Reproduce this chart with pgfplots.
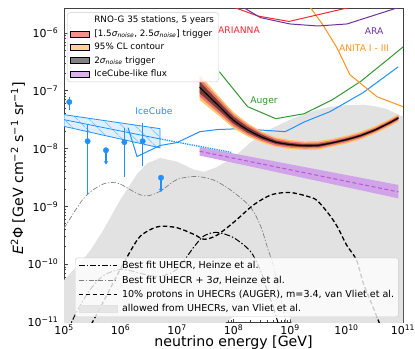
\documentclass[border=0pt]{standalone}
\usepackage{fontspec}
\setmainfont{DejaVu Sans}
\usepackage{pgfplots}
\usepackage{pgfplotstable}
\pgfplotsset{compat=1.18}
\usetikzlibrary{patterns.meta,arrows.meta}

\definecolor{icblue}{RGB}{30,144,255}
\definecolor{icfill}{RGB}{222,240,255}
\definecolor{arianna}{RGB}{240,40,50}
\definecolor{ara}{RGB}{112,48,160}
\definecolor{anita}{RGB}{255,145,30}
\definecolor{auger}{RGB}{50,150,50}
\definecolor{uhecr}{RGB}{226,226,226}
\definecolor{bandorange}{RGB}{255,200,110}
\definecolor{bandred}{RGB}{242,118,112}
\definecolor{darkband}{RGB}{100,100,100}
\definecolor{violetfill}{RGB}{209,163,232}
\definecolor{violetleg}{RGB}{215,160,230}
\definecolor{violetline}{RGB}{186,85,211}
\definecolor{framegray}{RGB}{64,64,64}

% RNO-G central curve
\pgfplotstableread{
E        c
2.512e7  1.148e-7
3.981e7  7.41e-8
6.310e7  4.79e-8
1.000e8  3.09e-8
1.778e8  2.11e-8
3.162e8  1.585e-8
5.623e8  1.29e-8
1.000e9  1.175e-8
1.778e9  1.122e-8
3.162e9  1.135e-8
5.623e9  1.259e-8
1.000e10 1.43e-8
1.778e10 1.679e-8
3.162e10 2.09e-8
5.623e10 2.75e-8
8.318e10 3.39e-8
}\rnogc
% 95% CL contour (upper edge, then lower edge reversed)
\pgfplotstableread{
E        y
2.512e7  1.905e-7
3.981e7  1.148e-7
6.310e7  6.92e-8
1.000e8  4.27e-8
1.778e8  2.75e-8
3.162e8  1.97e-8
5.623e8  1.57e-8
1.000e9  1.41e-8
1.778e9  1.334e-8
3.162e9  1.349e-8
5.623e9  1.479e-8
1.000e10 1.68e-8
1.778e10 1.96e-8
3.162e10 2.43e-8
5.623e10 3.20e-8
8.318e10 3.94e-8
8.318e10 2.92e-8
5.623e10 2.37e-8
3.162e10 1.80e-8
1.778e10 1.44e-8
1.000e10 1.22e-8
5.623e9  1.072e-8
3.162e9  9.55e-9
1.778e9  9.44e-9
1.000e9  9.77e-9
5.623e8  1.06e-8
3.162e8  1.27e-8
1.778e8  1.62e-8
1.000e8  2.24e-8
6.310e7  3.31e-8
3.981e7  4.79e-8
2.512e7  6.92e-8
}\rnogorange
% [1.5, 2.5] sigma trigger band
\pgfplotstableread{
E        y
2.512e7  1.66e-7
3.981e7  1.023e-7
6.310e7  6.31e-8
1.000e8  3.89e-8
1.778e8  2.57e-8
3.162e8  1.86e-8
5.623e8  1.48e-8
1.000e9  1.33e-8
1.778e9  1.259e-8
3.162e9  1.27e-8
5.623e9  1.40e-8
1.000e10 1.585e-8
1.778e10 1.85e-8
3.162e10 2.29e-8
5.623e10 3.02e-8
8.318e10 3.72e-8
8.318e10 3.09e-8
5.623e10 2.512e-8
3.162e10 1.905e-8
1.778e10 1.52e-8
1.000e10 1.288e-8
5.623e9  1.135e-8
3.162e9  1.01e-8
1.778e9  1.00e-8
1.000e9  1.035e-8
5.623e8  1.12e-8
3.162e8  1.35e-8
1.778e8  1.74e-8
1.000e8  2.45e-8
6.310e7  3.63e-8
3.981e7  5.37e-8
2.512e7  7.94e-8
}\rnogred
% 2 sigma trigger band
\pgfplotstableread{
E        y
2.512e7  1.445e-7
3.981e7  9.02e-8
6.310e7  5.62e-8
1.000e8  3.55e-8
1.778e8  2.37e-8
3.162e8  1.74e-8
5.623e8  1.38e-8
1.000e9  1.25e-8
1.778e9  1.19e-8
3.162e9  1.202e-8
5.623e9  1.32e-8
1.000e10 1.50e-8
1.778e10 1.76e-8
3.162e10 2.19e-8
5.623e10 2.88e-8
8.318e10 3.548e-8
8.318e10 3.24e-8
5.623e10 2.63e-8
3.162e10 1.995e-8
1.778e10 1.60e-8
1.000e10 1.36e-8
5.623e9  1.20e-8
3.162e9  1.07e-8
1.778e9  1.059e-8
1.000e9  1.10e-8
5.623e8  1.20e-8
3.162e8  1.445e-8
1.778e8  1.88e-8
1.000e8  2.69e-8
6.310e7  4.07e-8
3.981e7  6.10e-8
2.512e7  9.12e-8
}\rnogdark

\begin{document}
\begin{tikzpicture}
\begin{axis}[
  at={(0,0)}, anchor=south west,
  scale only axis, width=339bp, height=314bp,
  xmode=log, ymode=log,
  xmin=1e5, xmax=1e11, ymin=1e-11, ymax=2.7e-6,
  xtick={1e5,1e6,1e7,1e8,1e9,1e10,1e11},
  xticklabels={10\textsuperscript{5},10\textsuperscript{6},10\textsuperscript{7},10\textsuperscript{8},10\textsuperscript{9},10\textsuperscript{10},10\textsuperscript{11}},
  ytick={1e-11,1e-10,1e-9,1e-8,1e-7,1e-6},
  yticklabels={10\textsuperscript{−11},10\textsuperscript{−10},10\textsuperscript{−9},10\textsuperscript{−8},10\textsuperscript{−7},10\textsuperscript{−6}},
  tick align=inside, tick pos=left,
  major tick length=3.5bp, minor tick length=2bp,
  axis line style={framegray, line width=0.8bp},
  every tick/.style={framegray, line width=0.6bp},
  tick label style={font=\fontsize{11}{13}\selectfont},
  xticklabel style={inner sep=1.5bp, yshift=-1bp},
  yticklabel style={inner ysep=0bp, inner xsep=5.5bp},
  xlabel={neutrino energy [GeV]},
  ylabel={\textit{E}\textsuperscript{2}Φ [GeV cm\textsuperscript{−2} s\textsuperscript{−1} sr\textsuperscript{−1}]},
  label style={font=\fontsize{14.2}{17}\selectfont},
  xlabel style={at={(axis description cs:0.5,-0.0775)}, anchor=base},
  ylabel style={at={(axis description cs:-0.136,0.49)}, anchor=center},
  legend style={at={(axis description cs:0.0325,0.016)}, anchor=south west,
    draw=black!20, fill=white, fill opacity=0.8, text opacity=1,
    rounded corners=2.5bp, font=\fontsize{9.6}{11.5}\selectfont,
    inner xsep=3bp, inner ysep=2bp, row sep=2.6bp, column sep=3bp,
    nodes={inner sep=1.5bp, text depth=0.15em}},
  legend cell align=left,
  legend image code/.code={\draw[#1] (0bp,0bp) -- (38bp,0bp);},
]
% legend entries (bottom legend)
\addlegendimage{black, line width=1bp, dash pattern=on 6bp off 2bp on 1.5bp off 2bp}
\addlegendentry{Best fit UHECR, Heinze et al.}
\addlegendimage{gray, line width=0.7bp, dash pattern=on 5bp off 1.8bp on 1.2bp off 1.8bp}
\addlegendentry{Best fit UHECR + 3\textit{σ}, Heinze et al.}
\addlegendimage{black, line width=1.3bp, dash pattern=on 4.5bp off 2.5bp}
\addlegendentry{10\% protons in UHECRs (AUGER), m=3.4, van Vliet et al.}
\addlegendimage{legend image code/.code={\fill[uhecr, sharp corners] (0bp,-3.5bp) rectangle (38bp,3.5bp);}}
\addlegendentry{allowed from UHECRs, van Vliet et al.}

% allowed region from UHECRs
\addplot[fill=uhecr, draw=none] coordinates {
(8e4,4.0e-11) (1e5,5.30e-11) (2e5,1.09e-10) (3e5,1.79e-10) (5e5,3.94e-10) (1e6,1.32e-9)
(2e6,3.71e-9) (3e6,5.60e-9) (5e6,6.86e-9) (1e7,5.97e-9) (2e7,4.31e-9) (3e7,3.98e-9)
(5e7,4.74e-9) (1e8,7.00e-9) (2e8,1.27e-8) (3e8,1.74e-8) (5e8,2.29e-8) (1e9,3.15e-8)
(2e9,4.18e-8) (3e9,4.64e-8) (5e9,5.27e-8) (1e10,5.62e-8) (2e10,5.74e-8) (3e10,5.47e-8)
(5e10,4.88e-8) (1e11,3.56e-8) (1.2e11,3.2e-8) (1.2e11,1e-12) (2e9,1e-12) (1e9,1.22e-11)
(5e8,2.29e-11) (3e8,2.36e-11) (2e8,1.99e-11) (1e8,1.25e-11) (7e7,9.5e-12) (5e7,1e-12)
(8e4,1e-12)} -- cycle;

% Heinze best fit + 3 sigma
\addplot[gray, line width=0.7bp, dash pattern=on 5bp off 1.8bp on 1.2bp off 1.8bp, smooth] coordinates {
(8e4,2.97e-10) (1e5,4.18e-10) (2e5,1.20e-9) (3e5,1.82e-9) (5e5,2.45e-9) (7e5,2.59e-9)
(1e6,2.42e-9) (2e6,1.66e-9) (3e6,1.52e-9) (5e6,1.82e-9) (1e7,2.92e-9) (2e7,3.29e-9)
(3e7,3.16e-9) (5e7,2.72e-9) (1e8,1.76e-9) (2e8,9.69e-10) (3e8,4.65e-10) (4e8,1.92e-10)
(5e8,1.0e-10) (6e8,4.35e-11) (7e8,2.36e-11) (8e8,1.29e-11) (9e8,7.9e-12)};

% Heinze best fit
\addplot[black, line width=1bp, dash pattern=on 6bp off 2bp on 1.5bp off 2bp, smooth] coordinates {
(1.2e5,7.2e-12) (1.39e5,1.04e-11) (2e5,2.06e-11) (3e5,3.78e-11) (5e5,6.36e-11) (1e6,8.13e-11)
(2e6,7.19e-11) (3e6,6.49e-11) (5e6,6.14e-11) (1e7,8.17e-11) (2e7,2.0e-10) (3e7,3.08e-10)
(5e7,3.55e-10) (1e8,2.88e-10) (2e8,1.66e-10) (3e8,7.76e-11) (4e8,3.36e-11) (5e8,1.89e-11)
(6e8,1.04e-11) (7e8,6.8e-12)};

% van Vliet 10% protons
\addplot[black, line width=1.3bp, dash pattern=on 4.5bp off 2.5bp, smooth] coordinates {
(2e5,4.4e-12) (3e5,8.9e-12) (5e5,2.27e-11) (1e6,8.26e-11) (2e6,2.67e-10) (3e6,3.73e-10)
(5e6,4.52e-10) (1e7,4.27e-10) (2e7,3.27e-10) (3e7,2.70e-10) (5e7,3.14e-10) (1e8,5.27e-10)
(2e8,9.61e-10) (3e8,1.27e-9) (5e8,1.62e-9) (1e9,1.74e-9) (2e9,1.50e-9) (3e9,1.27e-9)
(5e9,7.11e-10) (7e9,4.31e-10) (1e10,2.16e-10) (1.5e10,1.18e-10) (2e10,4.61e-11)
(3e10,1.74e-11) (4e10,8.5e-12)};

% IceCube astrophysical fit band
\addplot[fill=icfill, draw=icblue, line width=0.8bp] coordinates {
(1e5,3.86e-8) (5e6,2.21e-8) (5e6,1.03e-8) (1e5,2.42e-8)} -- cycle;
\addplot[draw=none, pattern={Lines[angle=-45,distance=10bp,line width=0.7bp]}, pattern color=icblue] coordinates {
(1e5,3.86e-8) (5e6,2.21e-8) (5e6,1.03e-8) (1e5,2.42e-8)} -- cycle;
\addplot[icblue, line width=0.8bp] coordinates {(1e5,3.16e-8) (5e6,1.47e-8)};
\addplot[icblue, line width=1.3bp, densely dotted] coordinates {(5e6,1.47e-8) (9.4e7,8.53e-9)};

% IceCube limit
\addplot[icblue, line width=1bp] coordinates {
(1.36e6,2.30e-8) (1.96e6,7.28e-9) (5.0e6,1.13e-8) (1e7,1.27e-8) (2.55e7,1.96e-8)
(5.1e7,2.13e-8) (1.3e8,2.21e-8) (8.2e8,1.96e-8) (1.84e9,2.92e-8) (5.1e9,4.35e-8)
(1.96e10,9.25e-8) (8.2e10,2.59e-7)};

% IceCube measured points
\addplot[icblue, line width=1.2bp] coordinates {(1.24e5,7.88e-8) (1.24e5,4.70e-8)};
\addplot[icblue, line width=1.2bp] coordinates {(2.62e5,2.59e-8) (2.62e5,1.61e-9)};
\addplot[icblue, line width=1.2bp] coordinates {(1.17e6,2.30e-8) (1.17e6,3.25e-9)};
\addplot[icblue, line width=1.2bp] coordinates {(2.47e6,2.81e-8) (2.47e6,4.95e-9)};
\addplot[icblue, line width=1.2bp, -{Stealth[length=3.5bp,width=4.5bp]}] coordinates {(5.53e5,9.35e-9) (5.53e5,5.30e-9)};
\addplot[icblue, line width=1.2bp, -{Stealth[length=3.5bp,width=4.5bp]}] coordinates {(5.21e6,3.13e-9) (5.21e6,1.77e-9)};
\addplot[only marks, mark=*, mark size=2.7bp, icblue, mark options={draw=icblue, fill=icblue}] coordinates {
(1.24e5,6.38e-8) (2.62e5,1.34e-8) (5.53e5,9.35e-9) (1.17e6,1.29e-8) (2.47e6,1.34e-8) (5.21e6,3.13e-9)};

% Auger
\addplot[auger, line width=1bp] coordinates {
(5.62e7,2.13e-7) (1.78e8,5.30e-8) (5.62e8,3.29e-8) (1.78e9,4.01e-8) (5.62e9,7.0e-8)
(1.78e10,1.45e-7) (5.62e10,3.6e-7) (1.78e11,9.1e-7)};
% ANITA
\addplot[anita, line width=1bp] coordinates {
(1.5e9,4.5e-6) (2.26e9,2.81e-6) (3.84e9,1.37e-6) (6.79e9,5.51e-7) (1.15e10,1.89e-7)
(3.47e10,7.88e-8) (1e11,5.3e-8) (1.5e11,4.6e-8)};
% ARIANNA
\addplot[arianna, line width=1bp] coordinates {
(2.55e7,4.52e-6) (9.79e7,2.81e-6) (2.72e8,1.96e-6) (9.6e8,1.58e-6) (1.11e10,2.75e-6) (2.6e10,3.7e-6)};
% ARA
\addplot[ara, line width=1bp] coordinates {
(1.2e8,3.42e-6) (1.45e8,2.81e-6) (3.0e8,1.84e-6) (1e9,1.43e-6) (3.13e9,1.32e-6)
(1.02e10,1.43e-6) (7.8e10,2.70e-6) (1.3e11,3.2e-6)};

% IceCube-like flux
\addplot[fill=violetfill, draw=none] coordinates {
(2.512e7,1.062e-8) (8.318e10,2.35e-9) (8.318e10,1.374e-9) (2.512e7,7.57e-9)} -- cycle;
\addplot[violetline, line width=1bp, dash pattern=on 4bp off 2.5bp] coordinates {
(2.512e7,8.98e-9) (8.318e10,1.778e-9)};

% RNO-G bands
\addplot[fill=bandorange, draw=none] table[x=E,y=y]{\rnogorange} -- cycle;
\addplot[fill=bandred, draw=none] table[x=E,y=y]{\rnogred} -- cycle;
\addplot[fill=black, fill opacity=0.5, draw=none] table[x=E,y=y]{\rnogdark} -- cycle;
\addplot[black, line width=1.1bp, smooth] table[x=E,y=c]{\rnogc};

% labels
\node[text=arianna, font=\fontsize{9.2}{11}\selectfont] at (axis cs:1.25e8,1.13e-6) {ARIANNA};
\node[text=ara, font=\fontsize{9.2}{11}\selectfont] at (axis cs:3.07e10,1.08e-6) {ARA};
\node[text=anita, font=\fontsize{9.2}{11}\selectfont] at (axis cs:2.04e10,5.51e-7) {ANITA I - III};
\node[text=auger, font=\fontsize{9.2}{11}\selectfont] at (axis cs:3.47e8,6.73e-8) {Auger};
\node[text=icblue, font=\fontsize{9.2}{11}\selectfont] at (axis cs:3.92e6,4.52e-8) {IceCube};
\end{axis}

\begin{axis}[
  at={(0,0)}, anchor=south west,
  scale only axis, width=339bp, height=314bp,
  xmode=log, ymode=log,
  xmin=1e5, xmax=1e11, ymin=1e-11, ymax=2.7e-6,
  hide axis,
  legend style={at={(axis description cs:0.0097,0.986)}, anchor=north west,
    draw=black!20, fill=white, fill opacity=0.8, text opacity=1,
    rounded corners=2.5bp, font=\fontsize{8.8}{10.5}\selectfont,
    inner xsep=3bp, inner ysep=2bp, row sep=2.4bp, column sep=3bp,
    nodes={inner sep=1.5bp, text depth=0.15em}},
  legend cell align=left,
  legend image code/.code={\fill[#1, sharp corners] (0bp,-3bp) rectangle (19bp,3bp);},
]
\addlegendimage{empty legend}
\addlegendentry{RNO-G 35 stations, 5 years}
\addlegendimage{fill=bandred}
\addlegendentry{[1.5\textit{σ}\textsubscript{\textit{noise}}, 2.5\textit{σ}\textsubscript{\textit{noise}}] trigger}
\addlegendimage{fill=bandorange}
\addlegendentry{95\% CL contour}
\addlegendimage{fill=darkband}
\addlegendentry{2\textit{σ}\textsubscript{\textit{noise}} trigger}
\addlegendimage{fill=violetleg}
\addlegendentry{IceCube-like flux}
\addplot[draw=none] coordinates {(1e5,1e-11) (1e11,2.7e-6)};
\end{axis}
\pgfresetboundingbox
\path[use as bounding box] (-64bp,-27bp) rectangle (351bp,322bp);
\end{tikzpicture}
\end{document}
